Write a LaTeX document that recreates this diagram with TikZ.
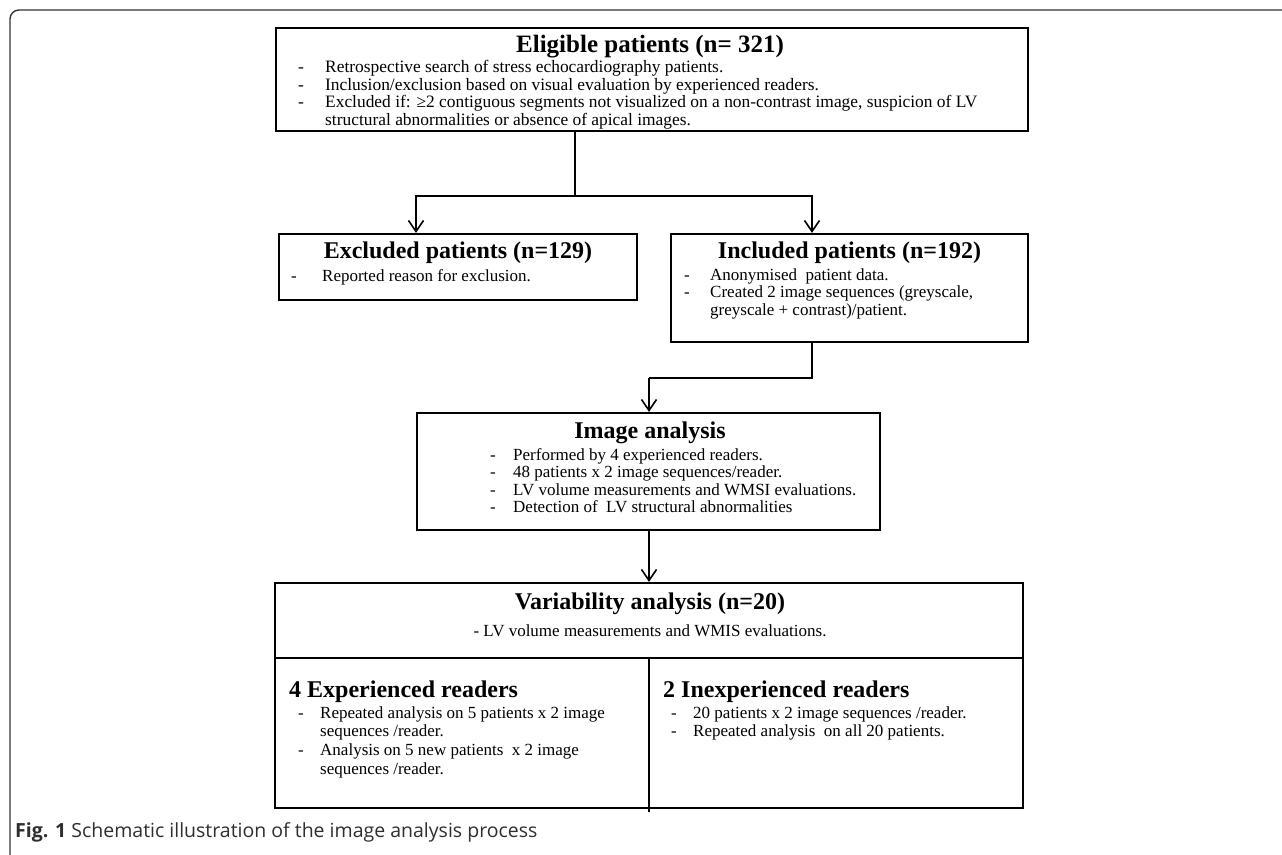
\documentclass[tikz,border=0pt]{standalone}
\usepackage{fontspec}
\setmainfont{Liberation Serif}
\newfontfamily\capfont{Open Sans}
\usetikzlibrary{arrows.meta}
\definecolor{framegray}{HTML}{333333}
\definecolor{capgray}{HTML}{2E2E2E}
\tikzset{
  box/.style={draw=black, line width=2.2pt, inner sep=0pt},
  conn/.style={draw=black, line width=1.8pt},
  arr/.style={conn, -{Straight Barb[length=11pt,width=15pt,line width=1.6pt]}},
  ttl/.style={font=\fontsize{24}{26}\selectfont\bfseries, inner sep=0pt},
  body/.style={font=\fontsize{17}{17.5}\selectfont, inner sep=0pt, align=left, anchor=north west},
}
\newcommand{\dsh}[1]{\makebox[#1][l]{-}}
\begin{document}
\begin{tikzpicture}[x=1pt,y=-1pt]
\useasboundingbox (0,0) rectangle (1282,854);
\clip (0,0) rectangle (1282,854);
% outer frame
\draw[framegray, line width=1.4pt, rounded corners=9pt] (1300,10) -- (10,10) -- (10,866) -- (40,866);
% boxes
\node[box, minimum width=752pt, minimum height=103pt] (elig) at (652,79.5) {};
\node[box, minimum width=358pt, minimum height=66pt] (excl) at (458,267) {};
\node[box, minimum width=357pt, minimum height=108pt] (incl) at (849.5,288) {};
\node[box, minimum width=463pt, minimum height=117pt] (img) at (648.5,471.5) {};
\node[box, minimum width=748pt, minimum height=225pt] (var) at (649,695.5) {};
% titles
\node[ttl, font=\fontsize{25}{27}\selectfont\bfseries] (eligt) at (650,47) {Eligible patients (n= 321)};
\node[ttl] (exclt) at (458,253) {Excluded patients (n=129)};
\node[ttl] (inclt) at (849.5,253) {Included patients (n=192)};
\node[ttl] (imgt) at (650,433) {Image analysis};
\node[ttl] (vart) at (650,604) {Variability analysis (n=20)};
% bodies
\node[body, font=\fontsize{17.4}{17.7}\selectfont] (eligb) at (298,60) {\dsh{27pt}Retrospective search of stress echocardiography patients.\\
\dsh{27pt}Inclusion/exclusion based on visual evaluation by experienced readers.\\
\dsh{27pt}Excluded if: ≥2 contiguous segments not visualized on a non-contrast image, suspicion of LV\\
\hspace*{27pt}structural abnormalities or absence of apical images.};
\node[body] (exclb) at (291,269) {\dsh{31pt}Reported reason for exclusion.};
\node[body] (inclb) at (684,268) {\dsh{26pt}Anonymised\ \ patient data.\\
\dsh{26pt}Created 2 image sequences (greyscale,\\
\hspace*{26pt}greyscale + contrast)/patient.};
\node[body] (imgb) at (490,448) {\dsh{23pt}Performed by 4 experienced readers.\\
\dsh{23pt}48 patients x 2 image sequences/reader.\\
\dsh{23pt}LV volume measurements and WMSI evaluations.\\
\dsh{23pt}Detection of\ \ LV structural abnormalities};
\node[body, anchor=north] (vars) at (650,624) {- LV volume measurements and WMIS evaluations.};
% variability dividers
\coordinate (vmid) at (649,658);
\draw[conn] (var.west |- vmid) -- (var.east |- vmid);
\coordinate (vbot) at (649,812);
\draw[conn] (vmid) -- (vbot);
% sub-cells
\node[ttl, anchor=west] (expt) at (289,692) {4 Experienced readers};
\node[body, font=\fontsize{17}{18.7}\selectfont] (expb) at (298,706) {\dsh{22pt}Repeated analysis on 5 patients x 2 image\\
\hspace*{22pt}sequences /reader.\\
\dsh{22pt}Analysis on 5 new patients\ \ x 2 image\\
\hspace*{22pt}sequences /reader.};
\node[ttl, anchor=west] (inexpt) at (663,692) {2 Inexperienced readers};
\node[body, font=\fontsize{17}{18.7}\selectfont] (inexpb) at (671,706) {\dsh{22pt}20 patients x 2 image sequences /reader.\\
\dsh{22pt}Repeated analysis\ \ on all 20 patients.};
% connectors
\coordinate (j1) at (575,196);
\coordinate (la) at (416,0);
\coordinate (ra) at (812,0);
\draw[conn] (elig.south -| j1) -- (j1);
\draw[arr] (j1) -| (excl.north -| la);
\draw[arr] (j1) -| (incl.north -| ra);
\coordinate (j2) at (649,378);
\draw[conn] (incl.south -| ra) |- (j2);
\draw[arr] (j2) -- (img.north -| j2);
\draw[arr] (img.south -| j2) -- (var.north -| j2);
% caption
\node[anchor=base west, inner sep=0pt, text=capgray, font=\capfont\fontsize{19.5}{22}\selectfont] (cap) at (15,837) {\textbf{Fig. 1} Schematic illustration of the image analysis process};
\end{tikzpicture}
\end{document}
